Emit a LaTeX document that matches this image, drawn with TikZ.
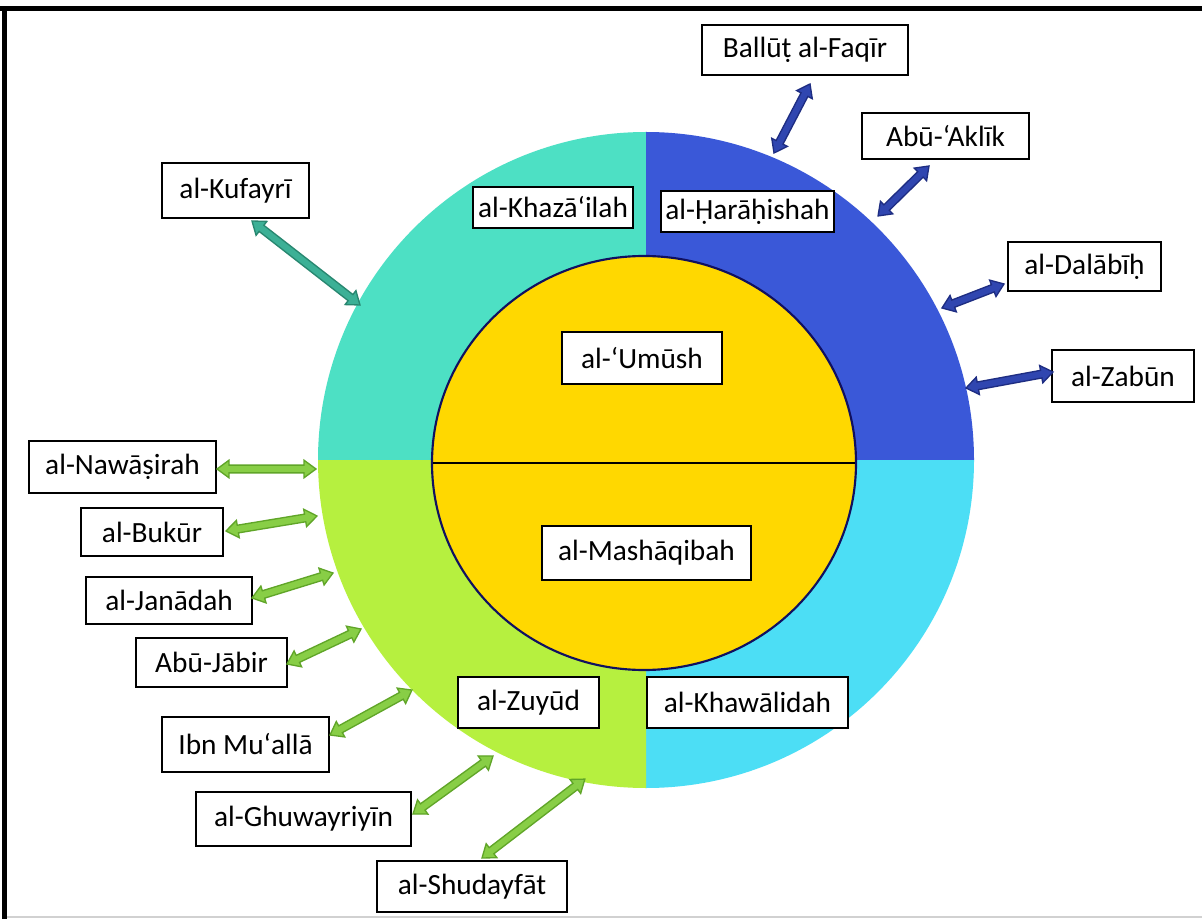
\documentclass[tikz,border=0pt]{standalone}
\usepackage{fontspec}
\setmainfont{Carlito}
\usetikzlibrary{calc}
\definecolor{cteal}{RGB}{77,224,196}
\definecolor{cblue}{RGB}{58,88,216}
\definecolor{cgreen}{RGB}{182,240,63}
\definecolor{ccyan}{RGB}{76,222,245}
\definecolor{cyellow}{RGB}{255,216,0}
\definecolor{cnavy}{RGB}{16,16,96}
\definecolor{agreen}{RGB}{136,206,70}
\definecolor{agreenD}{RGB}{96,165,40}
\definecolor{ablue}{RGB}{48,70,176}
\definecolor{ablueD}{RGB}{30,45,130}
\definecolor{ateal}{RGB}{60,176,150}
\definecolor{atealD}{RGB}{40,135,112}
\tikzset{
  lbl/.style 2 args={draw=black, fill=white, line width=1.8pt, inner sep=0pt,
    font=\fontsize{22}{26}\selectfont, minimum width=#1*0.75pt, minimum height=#2*0.75pt},
  garr/.style={fill=agreen, draw=agreenD, line width=1pt, line join=miter},
  barr/.style={fill=ablue, draw=ablueD, line width=1pt, line join=miter},
  tarr/.style={fill=ateal, draw=atealD, line width=1pt, line join=miter},
}
\newcommand\blockarr[3][]{%
  \path[#1] let \p1=(#2), \p2=(#3), \n1={atan2(\y2-\y1,\x2-\x1)}, \n2={veclen(\x2-\x1,\y2-\y1)} in
   ([shift={(\p1)},rotate=\n1]0pt,0pt)
   -- ([shift={(\p1)},rotate=\n1]9pt,6.6pt)
   -- ([shift={(\p1)},rotate=\n1]9pt,2.9pt)
   -- ([shift={(\p1)},rotate=\n1]{\n2*1pt-9pt},2.9pt)
   -- ([shift={(\p1)},rotate=\n1]{\n2*1pt-9pt},6.6pt)
   -- ([shift={(\p1)},rotate=\n1]{\n2*1pt},0pt)
   -- ([shift={(\p1)},rotate=\n1]{\n2*1pt-9pt},-6.6pt)
   -- ([shift={(\p1)},rotate=\n1]{\n2*1pt-9pt},-2.9pt)
   -- ([shift={(\p1)},rotate=\n1]9pt,-2.9pt)
   -- ([shift={(\p1)},rotate=\n1]9pt,-6.6pt)
   -- cycle;
}
\begin{document}
\begin{tikzpicture}[x=0.75pt,y=-0.75pt]
\useasboundingbox (0,0) rectangle (1202,919);
\fill[white] (0,0) rectangle (1202,919);
% frame
\draw[line width=3.75pt] (0,8.5) -- (1202,8.5);
\draw[line width=3.75pt] (4.5,6.6) -- (4.5,919);
\draw[black!18, line width=1.5pt] (7,916.5) -- (1202,916.5);
% outer quadrants
\coordinate (O) at (646,460);
\fill[cteal] (O) -- ++(180:246pt) arc[start angle=180,end angle=90,radius=246pt] -- cycle;
\fill[cblue] (O) -- ++(90:246pt) arc[start angle=90,end angle=0,radius=246pt] -- cycle;
\fill[ccyan] (O) -- ++(0:246pt) arc[start angle=0,end angle=-90,radius=246pt] -- cycle;
\fill[cgreen] (O) -- ++(-90:246pt) arc[start angle=-90,end angle=-180,radius=246pt] -- cycle;
% inner circle
\coordinate (I) at (644,463);
\draw[fill=cyellow, draw=cnavy, line width=1.6pt] (I) ellipse [x radius=159pt, y radius=155.25pt];
\draw[line width=1.8pt] ([xshift=-158.5pt]I) -- ([xshift=158.5pt]I);
% labels
\node[lbl={206}{50}] (ball) at (805,50) {Ballūṭ al-Faqīr};
\node[lbl={167}{46}] (akl) at (945.5,136) {Abū-‘Aklīk};
\node[lbl={173}{41}] (har) at (747.5,211.5) {al-Ḥarāḥishah};
\node[lbl={160}{41}] (khaz) at (553,207.5) {al-Khazāʻilah};
\node[lbl={147}{55}] (kuf) at (235.5,190.5) {al-Kufayrī};
\node[lbl={153}{49}] (dal) at (1084.5,266.5) {al-Dalābīḥ};
\node[lbl={142}{52}] (zab) at (1123,376) {al-Zabūn};
\node[lbl={160}{52}] (umu) at (642,358) {al-‘Umūsh\hspace{10pt}};
\node[lbl={209}{54}] (mash) at (646.5,553) {al-Mashāqibah\hspace{7pt}};
\node[lbl={187}{52}] (naw) at (122.5,467) {al-Nawāṣirah};
\node[lbl={142}{48}] (buk) at (152,532) {al-Bukūr};
\node[lbl={166}{47}] (jan) at (169,600.5) {al-Janādah};
\node[lbl={151}{49}] (jab) at (211.5,662.5) {Abū-Jābir};
\node[lbl={167}{55}] (ibn) at (245.5,744.5) {Ibn Muʻallā};
\node[lbl={215}{54}] (ghu) at (303.5,819) {al-Ghuwayriyīn};
\node[lbl={190}{51}] (shu) at (472,886.5) {al-Shudayfāt};
\node[lbl={141}{51}] (zuy) at (528.5,702.5) {al-Zuyūd};
\node[lbl={201}{51}] (khaw) at (747.5,702.5) {al-Khawālidah\hspace{6pt}};
% arrow end points
\coordinate (ballA) at (810,84);   \coordinate (ballB) at (774,153);
\coordinate (aklA) at (929,166);   \coordinate (aklB) at (878,216);
\coordinate (dalA) at (1004,284);  \coordinate (dalB) at (942,308);
\coordinate (zabA) at (1053,372);  \coordinate (zabB) at (966,388);
\coordinate (kufA) at (252,221);   \coordinate (kufB) at (360,305);
\coordinate (nawA) at (217,469);   \coordinate (nawB) at (316,469);
\coordinate (bukA) at (226,531);   \coordinate (bukB) at (317,516);
\coordinate (janA) at (252,598);   \coordinate (janB) at (333,573);
\coordinate (jabA) at (287,664);   \coordinate (jabB) at (361,629);
\coordinate (ibnA) at (330,735);   \coordinate (ibnB) at (412,690);
\coordinate (ghuA) at (413,814);   \coordinate (ghuB) at (493,756);
\coordinate (shuA) at (482,858);   \coordinate (shuB) at (585,779);
% arrows
\blockarr[barr]{ballA}{ballB}
\blockarr[barr]{aklA}{aklB}
\blockarr[barr]{dalA}{dalB}
\blockarr[barr]{zabA}{zabB}
\blockarr[tarr]{kufA}{kufB}
\blockarr[garr]{nawA}{nawB}
\blockarr[garr]{bukA}{bukB}
\blockarr[garr]{janA}{janB}
\blockarr[garr]{jabA}{jabB}
\blockarr[garr]{ibnA}{ibnB}
\blockarr[garr]{ghuA}{ghuB}
\blockarr[garr]{shuA}{shuB}
\end{tikzpicture}
\end{document}
